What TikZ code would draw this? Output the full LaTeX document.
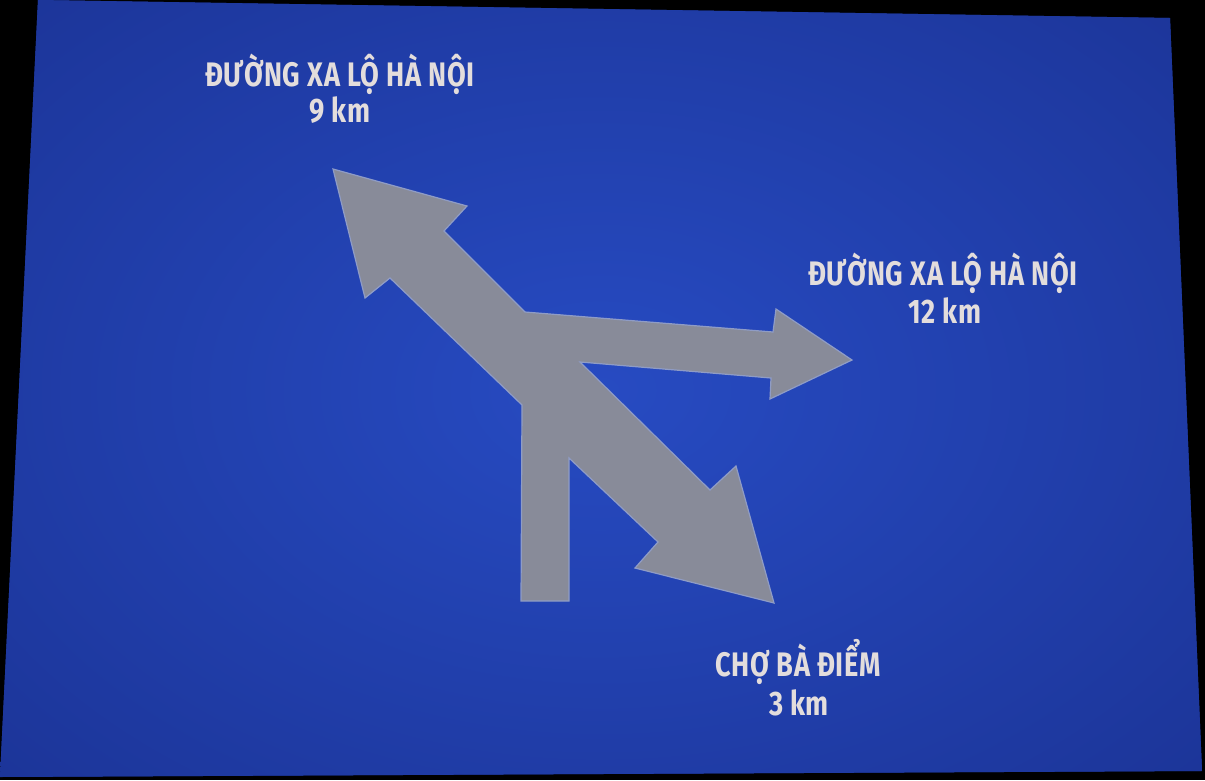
\documentclass[tikz,border=0pt]{standalone}
\usepackage{fontspec}
\newfontfamily\signfont{Fira Sans}[FakeStretch=0.8,LetterSpace=2]
\usetikzlibrary{positioning}
\definecolor{SIGNlightblue}{HTML}{274BC2}
\definecolor{SIGNdarkblue}{HTML}{1C3599}
\definecolor{SIGNgrey}{HTML}{888B99}
\definecolor{SIGNedgegrey}{HTML}{8F9CC6}
\definecolor{SIGNwhite}{HTML}{E3DDDC}

\begin{document}
\begin{tikzpicture}[x=1pt,y=-1pt,
  place/.style={anchor=base,inner sep=0pt,text=SIGNwhite,font=\signfont\bfseries\fontsize{34}{40}\selectfont}]

\useasboundingbox (0,0) rectangle (1205,780);
\fill[black] (0,0) rectangle (1205,780);

% Sign plate
\begin{scope}
\clip (38,0) -- (1170,18) -- (1202,771) -- (0,777) -- cycle;
\fill[SIGNdarkblue] (0,0) rectangle (1205,780);
\shade[inner color=SIGNlightblue, outer color=SIGNdarkblue] (600,390) ellipse [x radius=820, y radius=560];
\end{scope}

% Arrows
\filldraw[fill=SIGNgrey, draw=SIGNedgegrey, line width=1.2pt, line join=miter]
  (521,601) -- (522,405) -- (390,278) -- (365,298) -- (333,169) -- (467,206) -- (444,231)
  -- (525,312) -- (773,332) -- (776,309) -- (852,360) -- (770,399) -- (771,378)
  -- (580,362) -- (710,490) -- (736,466) -- (774,603) -- (635,568) -- (658,542)
  -- (569,458) -- (569,601) -- cycle;

% Destinations
\node[place] (hanoiNW) at (340,86) {ĐƯỜNG XA LỘ HÀ NỘI};
\node[place] (kmNW) at (340,122) {9 km};
\node[place] (hanoiE) at (943,285) {ĐƯỜNG XA LỘ HÀ NỘI};
\node[place] (kmE) at (945,323) {12 km};
\node[place] (chobadiem) at (798,676) {CHỢ BÀ ĐIỂM};
\node[place] (kmSE) at (799,715) {3 km};

\end{tikzpicture}
\end{document}
